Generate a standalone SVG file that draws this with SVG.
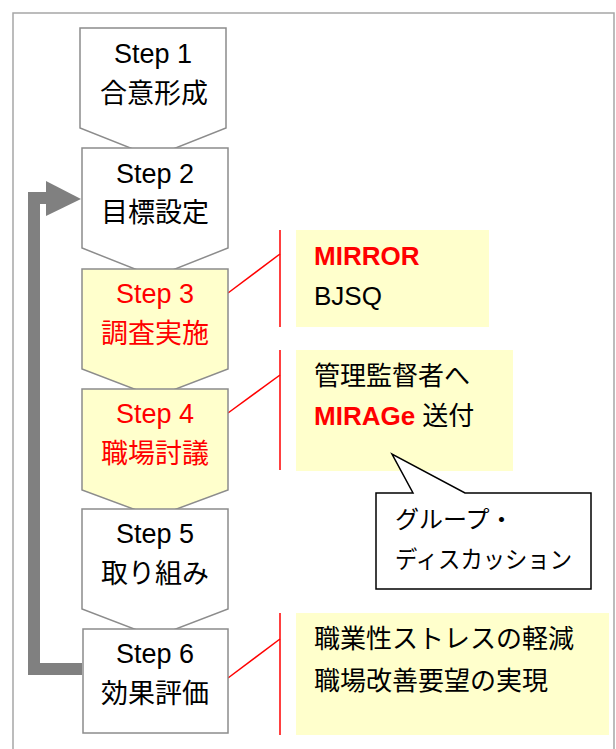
<svg xmlns="http://www.w3.org/2000/svg" width="616" height="749" viewBox="0 0 616 749">
<style>
.step{stroke:#8c8c8c;stroke-width:1.5;}
.w{fill:#ffffff;}
.y{fill:#ffffcc;}
.t{font-family:"Liberation Sans","Noto Sans CJK JP",sans-serif;font-size:26px;}
.s{font-size:27px;}
.c{text-anchor:middle;}
.k{fill:#000000;}
.r{fill:#ff0000;}
.b{font-weight:bold;}
.red{stroke:#ff0000;stroke-width:1.5;fill:none;}
.note{fill:#ffffcc;stroke:none;}
</style>
<rect x="0" y="0" width="616" height="749" fill="#ffffff"/>
<path d="M13 760 V13 H614 V760" fill="none" stroke="#a6a6a6" stroke-width="1.5"/>
<g id="connectors">
<polyline points="82,669 34,669 34,198 48,198" fill="none" stroke="#808080" stroke-width="12"/>
<polygon points="46,181 81,199 46,216" fill="#808080"/>
<polyline class="red" points="228,293 280,254"/>
<line class="red" x1="280" y1="230" x2="280" y2="327"/>
<polyline class="red" points="228,413 280,375"/>
<line class="red" x1="280" y1="350" x2="280" y2="470"/>
<polyline class="red" points="228,678 280,639"/>
<line class="red" x1="280" y1="613" x2="280" y2="735"/>
</g>
<g id="step1">
<polygon class="step w" points="80,28 226,28 226,128 153,157 80,128"/>
<text class="t s c k" x="153" y="63">Step 1</text>
<text class="t s c k" x="154" y="103">合意形成</text>
</g>
<g id="step2">
<polygon class="step w" points="82,148 228,148 228,248 155,277 82,248"/>
<text class="t s c k" x="155" y="183">Step 2</text>
<text class="t s c k" x="155" y="222">目標設定</text>
</g>
<g id="step3">
<polygon class="step y" points="82,269 228,269 228,369 155,397 82,369"/>
<text class="t s c r" x="155" y="303">Step 3</text>
<text class="t s c r" x="155" y="343">調査実施</text>
</g>
<g id="step4">
<polygon class="step y" points="82,389 228,389 228,490 155,517 82,490"/>
<text class="t s c r" x="155" y="423">Step 4</text>
<text class="t s c r" x="155" y="463">職場討議</text>
</g>
<g id="step5">
<polygon class="step w" points="82,509 228,509 228,609 155,637 82,609"/>
<text class="t s c k" x="155" y="543">Step 5</text>
<text class="t s c k" x="155" y="583">取り組み</text>
</g>
<g id="step6">
<rect class="step w" x="83" y="629" width="145" height="104"/>
<text class="t s c k" x="155" y="663">Step 6</text>
<text class="t s c k" x="155" y="703">効果評価</text>
</g>
<g id="note1">
<rect class="note" x="296" y="230" width="193" height="97"/>
<text class="t r b" x="314" y="265">MIRROR</text>
<text class="t k" x="314" y="305">BJSQ</text>
</g>
<g id="note2">
<rect class="note" x="296" y="350" width="217" height="121"/>
<text class="t k" x="314" y="385">管理監督者へ</text>
<text class="t" x="314" y="425"><tspan class="r b">MIRAGe</tspan><tspan class="k"> 送付</tspan></text>
</g>
<g id="callout">
<path d="M376,493 H413 L392,454 L465,493 H591 V589 H376 Z" fill="#ffffff" stroke="#000000" stroke-width="1.5"/>
<text class="t k" x="395" y="528" style="font-size:24px">グループ・</text>
<text class="t k" x="395" y="568" style="font-size:24px" textLength="177" lengthAdjust="spacingAndGlyphs">ディスカッション</text>
</g>
<g id="note3">
<rect class="note" x="296" y="613" width="313" height="122"/>
<text class="t k" x="314" y="648">職業性ストレスの軽減</text>
<text class="t k" x="314" y="690">職場改善要望の実現</text>
</g>
</svg>
